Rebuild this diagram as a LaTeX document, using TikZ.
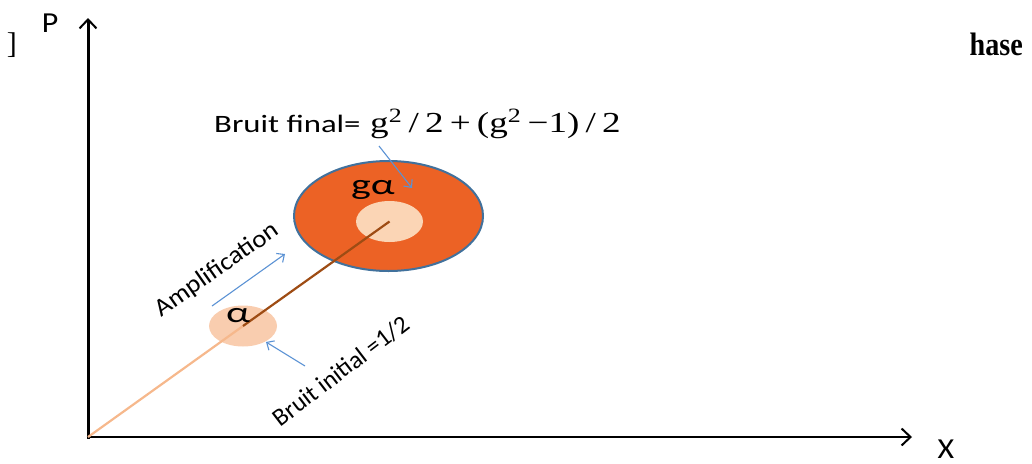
\documentclass[tikz,border=0pt]{standalone}
\usepackage{fontspec}
\setmainfont{Carlito}
\newfontfamily\tnr{Liberation Serif}
\usetikzlibrary{arrows.meta,shapes.geometric}
\definecolor{ringfill}{RGB}{236,98,37}
\definecolor{ringedge}{RGB}{65,113,156}
\definecolor{lightor}{RGB}{251,213,181}
\definecolor{smallor}{RGB}{249,205,175}
\definecolor{lineor}{RGB}{246,184,140}
\definecolor{brownl}{RGB}{158,76,20}
\definecolor{ptrblue}{RGB}{91,146,212}
\tikzset{
  axis/.style={black,line cap=butt,-{Straight Barb[length=9pt,width=17pt,line width=2pt]}},
  pointer/.style={ptrblue,line width=1.1pt,-{Straight Barb[length=6pt,width=11pt,line width=1.1pt]}},
  lbl/.style={inner sep=0pt,font=\fontsize{25}{28}\selectfont},
  blob/.style={ellipse,inner sep=0pt,draw=none},
}
\begin{document}
\begin{tikzpicture}[x=1pt,y=-1pt]
\useasboundingbox (0,0) rectangle (1032,463);
% fragments of caption
\node[inner sep=0pt,anchor=base east,font=\tnr\bfseries\fontsize{29}{30}\selectfont] (h) at (1023,55) {\scalebox{0.97}[1.12]{hase}};
\node[inner sep=0pt,anchor=base east,font=\tnr\fontsize{30}{32}\selectfont] (br) at (17,53) {]};
% axes
\coordinate (O) at (88,437);
\coordinate (Ytop) at (88,18);
\coordinate (Xend) at (912,437);
\draw[axis,line width=3pt] (88,438.5) -- (Ytop);
\draw[axis,line width=2.2pt] (86.5,437) -- (Xend);
\node[lbl,font=\fontsize{29}{30}\selectfont] (P) at (50,23.5) {\scalebox{1.1}[1]{P}};
\node[lbl,font=\fontsize{29}{30}\selectfont] (X) at (946,449) {\scalebox{1.1}[1]{X}};
% ellipses
\node[blob,fill=ringfill,draw=ringedge,line width=2pt,minimum width=189,minimum height=110] (ring) at (388.5,216) {};
\node[blob,fill=lightor,minimum width=67,minimum height=41] (ga) at (389.5,221.5) {};
\node[blob,fill=smallor,minimum width=68,minimum height=41] (a) at (243,326) {};
% vector
\draw[lineor,line width=2.2pt] (O) -- (a.center);
\draw[brownl,line width=2.2pt] (a.center) -- (ga.center);
% labels in circles
\node[lbl,font=\fontsize{29}{30}\selectfont] (galbl) at (373,190) {\scalebox{1.45}[1]{gα}};
\node[lbl,font=\fontsize{29}{30}\selectfont] (albl) at (238,316) {\scalebox{1.45}[1]{α}};
% formula
\node[lbl,anchor=base west] (bf) at (214,132) {\scalebox{1.31}[1]{Bruit final=}};
\node[lbl,anchor=base west,font=\tnr\fontsize{29}{30}\selectfont] (form) at (370,132) {\scalebox{1.28}[1]{g\textsuperscript{2}\,/\,2\,+\,(g\textsuperscript{2}\,−1)\,/\,2}};
\coordinate (f1) at (379,146);
\coordinate (f2) at (412,188);
\draw[pointer] (f1) -- (f2);
% amplification
\node[lbl,rotate=35] (amp) at (217,270) {\scalebox{1.08}[1]{Amplification}};
\coordinate (am1) at (212,306);
\coordinate (am2) at (285,254);
\draw[pointer] (am1) -- (am2);
% bruit initial
\node[lbl,rotate=37.5] (bi) at (341,371) {Bruit initial =1/2};
\coordinate (bi1) at (305,366);
\coordinate (bi2) at (266,342);
\draw[pointer] (bi1) -- (bi2);
\end{tikzpicture}
\end{document}
